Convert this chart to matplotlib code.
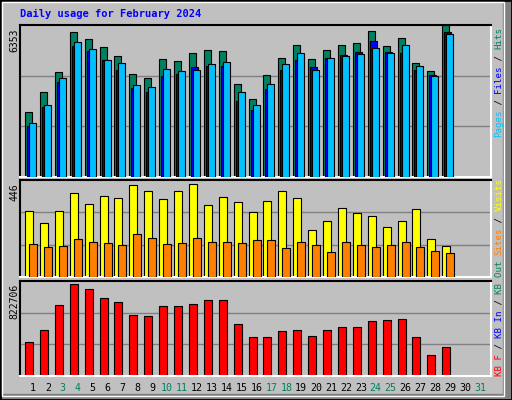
import matplotlib
matplotlib.use('Agg')
import matplotlib.pyplot as plt
from matplotlib.patches import Rectangle

days = list(range(1, 30))
all_days = list(range(1, 32))
weekend = [3, 4, 10, 11, 17, 18, 24, 25, 31]

hits = [2717, 3553, 4389, 6061, 5768, 5434, 5058, 4305, 4138, 4932, 4849, 5183,
        5309, 5267, 3887, 3260, 4264, 4974, 5518, 4932, 5309, 5518, 5601, 6103,
        5476, 5810, 4765, 4431, 6353]
files = [2131, 2926, 3971, 5478, 5269, 4893, 4475, 3723, 3554, 4224, 4308, 4600,
         4642, 4642, 3178, 2801, 3679, 4475, 4893, 4600, 4977, 5102, 5227, 5687,
         5227, 5185, 4475, 4266, 6060]
pages = [2257, 3010, 4140, 5645, 5353, 4893, 4768, 3847, 3764, 4517, 4433, 4475,
         4726, 4809, 3554, 3010, 3889, 4726, 5185, 4475, 4977, 5060, 5144, 5394,
         5185, 5520, 4642, 4224, 5980]
visits = [303, 248, 303, 386, 336, 372, 363, 423, 395, 358, 395, 427, 331, 368,
          345, 299, 349, 395, 363, 216, 257, 317, 294, 280, 230, 257, 313, 175, 143]
sites = [152, 138, 143, 175, 161, 156, 147, 198, 179, 152, 156, 179, 161, 161,
         156, 170, 170, 133, 161, 147, 115, 161, 147, 138, 147, 161, 138, 120, 110]
kbytes = [294400, 398300, 614800, 796700, 753400, 675500, 640800, 528200, 519600,
          606200, 606200, 623500, 658200, 658200, 450400, 337800, 337800, 389700,
          398300, 346400, 398300, 424300, 424300, 476300, 484900, 493600, 337800,
          181900, 251200]
max_hits, max_visits, max_kb = 6353, 446, 822706

W, H = 512, 400
fig = plt.figure(figsize=(W / 100, H / 100), dpi=100)
fig.patch.set_facecolor('#C0C0C0')
mono = 'DejaVu Sans Mono'

# bevelled frame
fig.patches.append(Rectangle((0, 0), 1, 1, transform=fig.transFigure, fill=False,
                             edgecolor='black', lw=2))
fig.patches.append(Rectangle((2 / W, 4 / H), (W - 10) / W, (H - 6) / H,
                             transform=fig.transFigure, fill=False, edgecolor='white', lw=1))
fig.patches.append(Rectangle(((W - 9) / W, 0), 8 / W, 1, transform=fig.transFigure,
                             color='#808080', zorder=-1))
fig.patches.append(Rectangle((0, 0), 1, 6 / H, transform=fig.transFigure,
                             color='#808080', zorder=-1))

x0, x1 = 20, 491
left_day = 1 - (33 - x0) / 14.9
right_day = 1 + (x1 - 33) / 14.9


def panel(top, bottom):
    ax = fig.add_axes([x0 / W, 1 - bottom / H, (x1 - x0) / W, (bottom - top) / H])
    ax.set_facecolor('#C0C0C0')
    ax.set_xlim(left_day, right_day)
    for s in ['top', 'left']:
        ax.spines[s].set_color('black')
    for s in ['bottom', 'right']:
        ax.spines[s].set_color('white')
    for s in ax.spines.values():
        s.set_linewidth(1.5)
    ax.set_xticks([])
    ax.set_yticks([])
    return ax


px = 1 / 14.9
ax1 = panel(25, 177)
ax1.set_ylim(0, max_hits)
for g in (1 / 3, 2 / 3):
    ax1.axhline(max_hits * g, color='#808080', lw=1, zorder=0)
ax1.bar([d - 8 * px for d in days], hits, width=7 * px, align='edge', color='#008060',
        edgecolor='black', lw=0.8, zorder=2)
ax1.bar([d - 6 * px for d in days], files, width=7 * px, align='edge', color='#0000FF',
        edgecolor='black', lw=0.8, zorder=3)
ax1.bar([d - 4 * px for d in days], pages, width=7 * px, align='edge', color='#00C0FF',
        edgecolor='black', lw=0.8, zorder=4)

ax2 = panel(180, 277)
ax2.set_ylim(0, max_visits)
for g in (1 / 3, 2 / 3):
    ax2.axhline(max_visits * g, color='#808080', lw=1, zorder=0)
ax2.bar([d - 8 * px for d in days], visits, width=8 * px, align='edge', color='#FFFF00',
        edgecolor='black', lw=0.8, zorder=2)
ax2.bar([d - 4 * px for d in days], sites, width=8 * px, align='edge', color='#FF8000',
        edgecolor='black', lw=0.8, zorder=3)

ax3 = panel(281, 376)
ax3.set_ylim(0, max_kb)
for g in (1 / 3, 2 / 3):
    ax3.axhline(max_kb * g, color='#808080', lw=1, zorder=0)
ax3.bar([d - 8 * px for d in days], kbytes, width=8 * px, align='edge', color='#FF0000',
        edgecolor='black', lw=0.8, zorder=2)

# day labels
for d in all_days:
    c = '#008060' if d in weekend else 'black'
    ax3.text(d, -12 / 95 * max_kb, str(d), ha='center', va='center', color=c,
             family=mono, fontsize=7.2)

fig.text(20 / W, 1 - 14 / H, 'Daily usage for February 2024', color='#0000FF',
         family=mono, fontsize=7.5, fontweight='bold', va='center')

for ytop, lab in [(28, str(max_hits)), (183, str(max_visits)), (284, str(max_kb))]:
    fig.text(14 / W, 1 - ytop / H, lab, rotation=90, ha='center', va='top',
             family=mono, fontsize=7)

# right vertical multicolour labels
ch = 5.5


def vlabel(ybottom, parts):
    y = ybottom
    for s, c in parts:
        fig.text(499 / W, 1 - y / H, s, rotation=90, ha='center', va='bottom',
                 color=c, family=mono, fontsize=6.6)
        y -= ch * len(s)


vlabel(137, [('Pages', '#00C0FF'), (' / ', 'black'), ('Files', '#0000FF'),
             (' / ', 'black'), ('Hits', '#008060')])
vlabel(277, [('Out ', '#008060'), ('Sites', '#FF8000'), (' / ', 'black'),
             ('Visits', '#FFFF00')])
vlabel(376, [('KB F', '#FF0000'), (' / ', 'black'), ('KB In', '#0000FF'),
             (' / ', 'black'), ('KB ', '#008060')])

fig.savefig('out.png', dpi=100, facecolor=fig.get_facecolor())
